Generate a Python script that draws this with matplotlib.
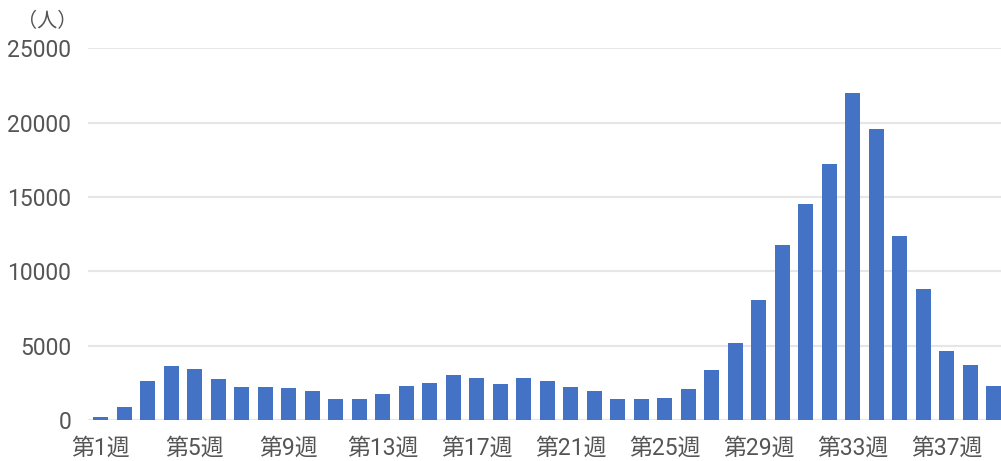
import matplotlib.pyplot as plt

plt.rcParams['font.family'] = ['Roboto', 'Noto Sans CJK JP', 'DejaVu Sans']

# 週ごとの人数
weeks = [f"第{i}週" for i in range(1, 40)]
counts = [180, 900, 2650, 3650, 3400, 2780, 2200, 2200, 2150, 1950,
          1420, 1380, 1750, 2300, 2500, 3050, 2800, 2420, 2850, 2630,
          2200, 1950, 1420, 1420, 1500, 2100, 3350, 5200, 8050, 11760,
          14560, 17250, 22020, 19580, 12370, 8830, 4640, 3680, 2300]
yticks = [0, 5000, 10000, 15000, 20000, 25000]

text_color = "#555555"

fig = plt.figure(figsize=(10.01, 4.61), dpi=100)
ax = fig.add_axes([88 / 1001, 1 - 420 / 461, 1 - 88 / 1001, (420 - 48.5) / 461])

x = list(range(len(weeks)))
ax.bar(x, counts, width=0.64, color="#4472C4", zorder=3)

ax.set_ylim(0, 25000)
ax.set_xlim(-0.55, 38.3)
ax.set_yticks(yticks)
ax.set_yticklabels([str(v) for v in yticks])
ax.set_xticks(x[::4])
ax.set_xticklabels(weeks[::4])

ax.grid(axis="y", color="#e6e6e6", linewidth=1.5, zorder=0)
for s in ax.spines.values():
    s.set_visible(False)
ax.tick_params(axis="both", length=0, colors=text_color, labelsize=16.5)
ax.tick_params(axis="y", pad=12)
ax.tick_params(axis="x", pad=12)

fig.text(47 / 1001, 1 - 21 / 461, "（人）", ha="center", va="center",
         fontsize=14.5, color=text_color)

fig.savefig("out.png", dpi=100)
